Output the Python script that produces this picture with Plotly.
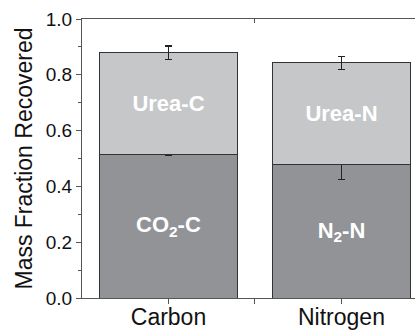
import plotly.graph_objects as go

categories = [0, 1]
category_labels = ["Carbon", "Nitrogen"]
gas_values = [0.516, 0.478]
gas_errors = [0.006, 0.053]
gas_labels = ["CO<sub>2</sub>-C", "N<sub>2</sub>-N"]
urea_values = [0.363, 0.365]
urea_errors = [0.024, 0.023]
urea_labels = ["Urea-C", "Urea-N"]

FONT = "Liberation Sans, Arial, sans-serif"
AXIS = "#555555"

fig = go.Figure()
fig.add_trace(go.Bar(
    x=categories, y=gas_values, width=0.8,
    marker=dict(color="#929396", line=dict(color="#333333", width=1)),
    error_y=dict(type="data", array=gas_errors, color="#222222", thickness=1.2, width=3.5),
    text=gas_labels, textposition="inside", insidetextanchor="middle",
    textfont=dict(color="white", size=22, family=FONT, weight="bold"),
    showlegend=False,
))
fig.add_trace(go.Bar(
    x=categories, y=urea_values, width=0.8,
    marker=dict(color="#c6c7c9", line=dict(color="#333333", width=1)),
    error_y=dict(type="data", array=urea_errors, color="#222222", thickness=1.2, width=3.5),
    text=urea_labels, textposition="inside", insidetextanchor="middle",
    textfont=dict(color="white", size=22, family=FONT, weight="bold"),
    showlegend=False,
))
# top mirror axis with inward tick between categories
fig.add_trace(go.Scatter(x=[0.5], y=[None], xaxis="x2", showlegend=False, hoverinfo="skip"))

fig.update_layout(
    barmode="stack",
    width=417, height=331,
    margin=dict(l=82, r=2, t=19, b=33, autoexpand=False),
    paper_bgcolor="white", plot_bgcolor="white",
    font=dict(family=FONT, color="#111111"),
    xaxis=dict(
        range=[-0.5, 1.425], tickvals=[0, 0.5, 1], ticktext=["Carbon", "", "Nitrogen"],
        ticks="outside", ticklen=5, tickcolor=AXIS, tickwidth=1,
        showline=True, linecolor=AXIS, linewidth=1.2, automargin=False,
        showgrid=False, zeroline=False, tickfont=dict(size=23), ticklabelstandoff=-7,
    ),
    xaxis2=dict(
        overlaying="x", side="top", range=[-0.5, 1.425], tickvals=[0.5], ticktext=[""],
        ticks="inside", ticklen=4, tickcolor=AXIS, tickwidth=1, automargin=False,
        showline=True, linecolor=AXIS, linewidth=1.2, showgrid=False, zeroline=False,
    ),
    yaxis=dict(
        range=[0, 1.0], tickvals=[0, 0.2, 0.4, 0.6, 0.8, 1.0],
        ticktext=["0.0", "0.2", "0.4", "0.6", "0.8", "1.0"],
        ticks="outside", ticklen=5, tickcolor=AXIS, tickwidth=1,
        minor=dict(dtick=0.1, ticks="outside", ticklen=3, tickcolor=AXIS, showgrid=False),
        showline=True, linecolor=AXIS, linewidth=1.2, automargin=False,
        showgrid=False, zeroline=False, tickfont=dict(size=19),
        title=dict(text="Mass Fraction Recovered", font=dict(size=23), standoff=6),
    ),
)

fig.write_html("out.html")
